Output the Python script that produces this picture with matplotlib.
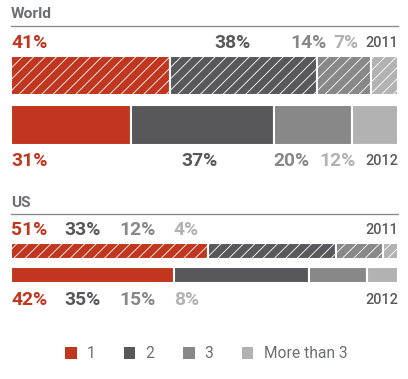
import matplotlib
matplotlib.use("Agg")
import matplotlib.pyplot as plt
from matplotlib.patches import Patch
import numpy as np

# ---- data ----
categories = ["1", "2", "3", "More than 3"]
world_2011 = [41, 38, 14, 7]
world_2012 = [31, 37, 20, 12]
us_2011 = [51, 33, 12, 4]
us_2012 = [42, 35, 15, 8]
years = ["2011", "2012"]
sections = ["World", "US"]

# ---- style ----
colors = ["#c1361e", "#58585a", "#888888", "#b2b2b2"]
title_color = "#6d6e71"
year_color = "#58595b"

DPI = 136
plt.rcParams["hatch.linewidth"] = 0.45
plt.rcParams["font.family"] = ["Roboto", "DejaVu Sans"]

fig = plt.figure(figsize=(408 / DPI, 379 / DPI), dpi=DPI)
ax = fig.add_axes([11 / 408, 0, 387 / 408, 1])
ax.set_xlim(0, 100)
ax.set_ylim(379, 0)
ax.axis("off")

rows = [
    # values, y-center, height, hatch
    (world_2011, 75.5, 39, "////"),
    (world_2012, 125, 40, None),
    (us_2011, 251, 16, "////"),
    (us_2012, 275, 16, None),
]
for vals, yc, h, hatch in rows:
    left = np.concatenate([[0], np.cumsum(vals)[:-1]])
    for v, l, c in zip(vals, left, colors):
        ax.barh(yc, v, left=l, height=h, color=c, edgecolor="white",
                linewidth=1.1, hatch=hatch)

# section titles and rules
for name, ty, ly in [(sections[0], 14, 26), (sections[1], 203, 214)]:
    ax.text(0, ty, name, color=title_color, fontsize=8.2, fontweight="bold",
            va="center", ha="left")
    ax.plot([0, 100], [ly, ly], color="#8a8a8a", lw=0.7, clip_on=False)

# percentage labels
label_rows = [
    (world_2011, [0, 52.5, 72.1, 83.2], 43, years[0]),
    (world_2012, [0, 43.9, 67.7, 79.8], 161, years[1]),
    (us_2011, [0, 13.7, 27.9, 42.1], 230, years[0]),
    (us_2012, [0, 13.7, 27.9, 42.1], 300, years[1]),
]
for vals, xs, y, yr in label_rows:
    for v, x, c in zip(vals, xs, colors):
        ax.text(x, y, f"{v}%", color=c, fontsize=10.2, fontweight="bold",
                va="center", ha="left")
    ax.text(100, y, yr, color=year_color, fontsize=7.6, fontweight="medium",
            va="center", ha="right")

handles = [Patch(facecolor=c, edgecolor="none") for c in colors]
fig.legend(handles, categories, loc="center", bbox_to_anchor=(0.505, 1 - 354 / 379),
           ncol=4, frameon=False, fontsize=8.3, labelcolor=title_color,
           handlelength=0.75, handleheight=0.75, handletextpad=0.65,
           columnspacing=1.8)

fig.savefig("out.png", dpi=DPI)
